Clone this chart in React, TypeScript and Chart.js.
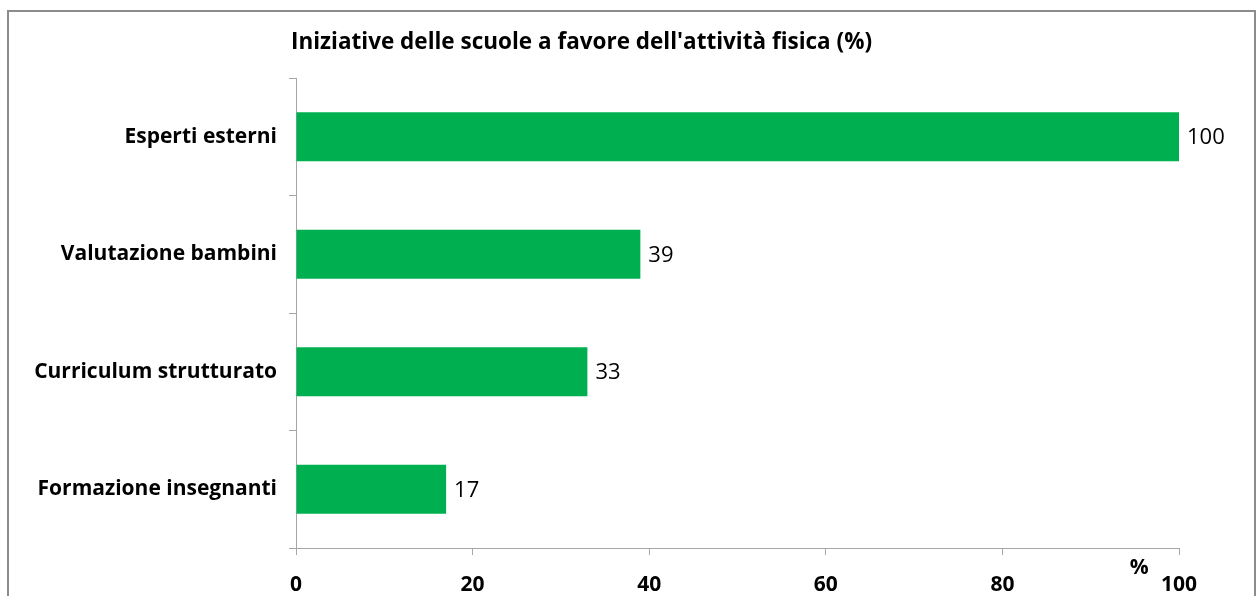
import React, { useEffect, useRef } from "react";
import { Chart, registerables } from "chart.js";

Chart.register(...registerables);

const categories = [
  "Esperti esterni",
  "Valutazione bambini",
  "Curriculum strutturato",
  "Formazione insegnanti",
];
const values = [100, 39, 33, 17];
const xTicks = [0, 20, 40, 60, 80, 100];
const titleText = "Iniziative delle scuole a favore dell'attività fisica (%)";
const unitLabel = "%";

const FONT = "'Open Sans', sans-serif";
const BAR_COLOR = "#00B050";
const AXIS_COLOR = "#A6A6A6";

const overlayPlugin = {
  id: "overlay",
  afterDatasetsDraw(chart: any) {
    const ctx = chart.ctx;
    const area = chart.chartArea;
    const meta = chart.getDatasetMeta(0);
    ctx.save();
    ctx.fillStyle = "#000";
    ctx.font = `22px ${FONT}`;
    ctx.textAlign = "left";
    ctx.textBaseline = "middle";
    meta.data.forEach((bar: any, i: number) => {
      ctx.fillText(String(values[i]), bar.x + 8, bar.y + 1);
    });
    ctx.font = `bold 22.5px ${FONT}`;
    ctx.textBaseline = "alphabetic";
    ctx.fillText(titleText, area.left - 5, 49);
    ctx.font = `bold 21px ${FONT}`;
    ctx.textAlign = "center";
    ctx.fillText(unitLabel, chart.scales.x.getPixelForValue(95.5), 574);
    ctx.restore();
  },
};

export default function App() {
  const ref = useRef<HTMLCanvasElement>(null);
  useEffect(() => {
    const chart = new Chart(ref.current!, {
      type: "bar",
      data: {
        labels: categories,
        datasets: [
          {
            data: values,
            backgroundColor: BAR_COLOR,
            borderWidth: 0,
            categoryPercentage: 1,
            barPercentage: 0.415,
          },
        ],
      },
      options: {
        indexAxis: "y",
        animation: false,
        responsive: false,
        maintainAspectRatio: false,
        layout: { padding: { top: 78, right: 81, left: 0, bottom: 0 } },
        plugins: {
          legend: { display: false },
          title: { display: false },
          tooltip: { enabled: false },
        },
        scales: {
          x: {
            min: 0,
            max: 100,
            afterBuildTicks(scale: any) {
              scale.ticks = xTicks.map((v) => ({ value: v }));
            },
            afterFit(scale: any) {
              scale.height = 48;
            },
            grid: {
              drawOnChartArea: false,
              drawTicks: true,
              tickLength: 7,
              color: AXIS_COLOR,
            },
            border: { color: AXIS_COLOR, width: 1 },
            ticks: {
              color: "#000",
              padding: 17,
              maxRotation: 0,
              font: { family: FONT, size: 21, weight: "bold" },
            },
          },
          y: {
            afterFit(scale: any) {
              scale.width = 296;
            },
            grid: {
              drawOnChartArea: false,
              drawTicks: true,
              tickLength: 7,
              offset: true,
              color: AXIS_COLOR,
            },
            border: { color: AXIS_COLOR, width: 1 },
            ticks: {
              color: "#000",
              padding: 12,
              font: { family: FONT, size: 21, weight: "bold" },
            },
          },
        },
      },
      plugins: [overlayPlugin],
    });
    return () => chart.destroy();
  }, []);
  return (
    <div style={{ position: "fixed", left: 0, top: 0, width: 1260, height: 596, background: "#fff" }}>
      <div
        style={{
          position: "absolute",
          left: 7,
          top: 10,
          width: 1249,
          height: 600,
          border: "2px solid #8C8C8C",
          borderBottom: "none",
          boxSizing: "border-box",
        }}
      />
      <canvas ref={ref} width={1260} height={596} style={{ position: "absolute", left: 0, top: 0 }} />
    </div>
  );
}
